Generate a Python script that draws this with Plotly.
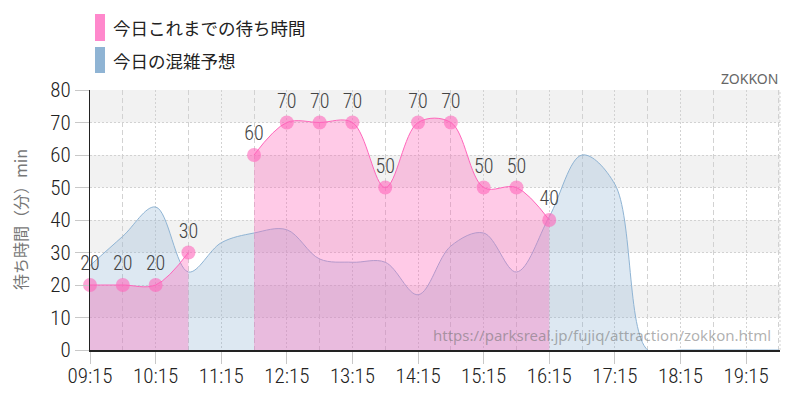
import plotly.graph_objects as go

DAY = "2024-06-01 "

# Prediction (今日の混雑予想), every 30 minutes
pred_times = ["09:15", "09:45", "10:15", "10:45", "11:15", "11:45", "12:15", "12:45",
              "13:15", "13:45", "14:15", "14:45", "15:15", "15:45", "16:15", "16:45",
              "17:15", "17:45", "18:15", "18:45", "19:15", "19:45"]
pred_values = [26, 35, 44, 24, 33, 36, 37, 28,
               27, 27, 17, 32, 36, 24, 41, 60,
               51, 0, 0, 0, 0, 0]

# Actual waits so far (今日これまでの待ち時間); None = no data
act_times = ["09:15", "09:45", "10:15", "10:45", "11:15", "11:45", "12:15", "12:45",
             "13:15", "13:45", "14:15", "14:45", "15:15", "15:45", "16:15"]
act_values = [20, 20, 20, 30, None, 60, 70, 70, 70, 50, 70, 70, 50, 50, 40]

x_ticks = ["09:15", "10:15", "11:15", "12:15", "13:15", "14:15", "15:15",
           "16:15", "17:15", "18:15", "19:15"]

legend_labels = ["今日これまでの待ち時間", "今日の混雑予想"]
y_title = "待ち時間（分）min"
brand = "ZOKKON"
watermark = "https://parksreal.jp/fujiq/attraction/zokkon.html"

PINK = "rgb(255,102,187)"
BLUE = "rgb(143,180,212)"
NUM_FONT = "Roboto Condensed, Liberation Sans Narrow, Roboto, sans-serif"
JP_FONT = "Noto Sans CJK JP, Noto Sans, sans-serif"
GRID = "#d2d2d2"

fig = go.Figure()

fig.add_trace(go.Scatter(
    x=[DAY + t for t in pred_times], y=pred_values,
    mode="lines", line=dict(shape="spline", smoothing=1, color=BLUE, width=1),
    fill="tozeroy", fillcolor="rgba(143,180,212,0.3)", hoverinfo="skip",
))

# split actual series into contiguous segments at the gaps
segments, cur = [], []
for t, v in zip(act_times, act_values):
    if v is None:
        if cur:
            segments.append(cur)
        cur = []
    else:
        cur.append((t, v))
if cur:
    segments.append(cur)

for seg in segments:
    fig.add_trace(go.Scatter(
        x=[DAY + t for t, _ in seg], y=[v for _, v in seg],
        mode="lines+markers+text",
        text=[str(v) for _, v in seg],
        textposition="top center",
        textfont=dict(family=NUM_FONT, size=20, color="#444", weight=300),
        marker=dict(size=14, color="rgba(255,102,187,0.6)"),
        line=dict(shape="spline", smoothing=1, color=PINK, width=1),
        fill="tozeroy", fillcolor="rgba(255,102,187,0.35)",
        cliponaxis=False, hoverinfo="skip",
    ))

# plot area in pixels: x 90..780, y 90..350
L, R, T, B = 90, 780, 90, 350
def px(x):
    return (x - L) / (R - L)
def py(y):
    return (B - y) / (B - T)

shapes = []
for lo in (10, 30, 50, 70):
    shapes.append(dict(type="rect", xref="paper", yref="y", x0=0, x1=1, y0=lo, y1=lo + 10,
                       fillcolor="#f2f2f2", line=dict(width=0), layer="below"))
shapes.append(dict(type="line", xref="paper", yref="paper", x0=1, x1=1, y0=0, y1=1,
                   line=dict(color=GRID, width=1, dash="2px,2px"), layer="below"))
# manual legend swatches
shapes.append(dict(type="rect", xref="paper", yref="paper", x0=px(95), x1=px(105),
                   y0=py(41), y1=py(14), fillcolor="#ff88cc", line=dict(width=0)))
shapes.append(dict(type="rect", xref="paper", yref="paper", x0=px(95), x1=px(105),
                   y0=py(73), y1=py(47), fillcolor="#8fb4d4", line=dict(width=0)))

annotations = [
    dict(text=legend_labels[0], xref="paper", yref="paper", x=px(111), y=py(28),
         xanchor="left", yanchor="middle", showarrow=False,
         font=dict(family=JP_FONT, size=17.5, color="#222")),
    dict(text=legend_labels[1], xref="paper", yref="paper", x=px(111), y=py(61),
         xanchor="left", yanchor="middle", showarrow=False,
         font=dict(family=JP_FONT, size=17.5, color="#222")),
    dict(text=brand, xref="paper", yref="paper", x=1, y=py(79),
         xanchor="right", yanchor="middle", showarrow=False,
         font=dict(family="Noto Sans, sans-serif", size=14, color="#666")),
    dict(text=watermark, xref="paper", yref="paper", x=px(773), y=py(335),
         xanchor="right", yanchor="middle", showarrow=False,
         font=dict(family="Noto Sans, sans-serif", size=15, color="rgba(110,110,110,0.55)")),
    dict(text=y_title, xref="paper", yref="paper", x=px(20), y=py(220),
         xanchor="center", yanchor="middle", textangle=-90, showarrow=False,
         font=dict(family=JP_FONT, size=16, color="#777")),
]

fig.update_layout(
    width=800, height=400,
    margin=dict(l=L, r=800 - R, t=T, b=400 - B),
    paper_bgcolor="white", plot_bgcolor="white",
    showlegend=False,
    shapes=shapes, annotations=annotations,
    xaxis=dict(
        type="date",
        range=[DAY + "09:15", DAY + "19:46"],
        tickmode="array",
        tickvals=[DAY + t for t in x_ticks], ticktext=x_ticks,
        ticks="outside", ticklen=12, tickcolor="#c8c8c8",
        ticklabelstandoff=-6,
        showgrid=True, gridcolor=GRID, griddash="2px,2px", gridwidth=1,
        minor=dict(tick0=DAY + "09:45", dtick=3600000, showgrid=True,
                   gridcolor=GRID, griddash="5px,3px", ticks=""),
        showline=True, linecolor="#222", linewidth=2,
        zeroline=False, automargin=False,
        tickfont=dict(family=NUM_FONT, size=21, color="#222", weight=300),
        fixedrange=True,
    ),
    yaxis=dict(
        range=[0, 80], dtick=10, tick0=0,
        ticks="outside", ticklen=14, tickcolor="#c8c8c8",
        showgrid=True, gridcolor=GRID, griddash="2px,2px", gridwidth=1,
        showline=True, linecolor="#222", linewidth=1,
        zeroline=False, automargin=False,
        tickfont=dict(family=NUM_FONT, size=21, color="#222", weight=300),
        fixedrange=True,
    ),
)

fig.write_html("out.html")
